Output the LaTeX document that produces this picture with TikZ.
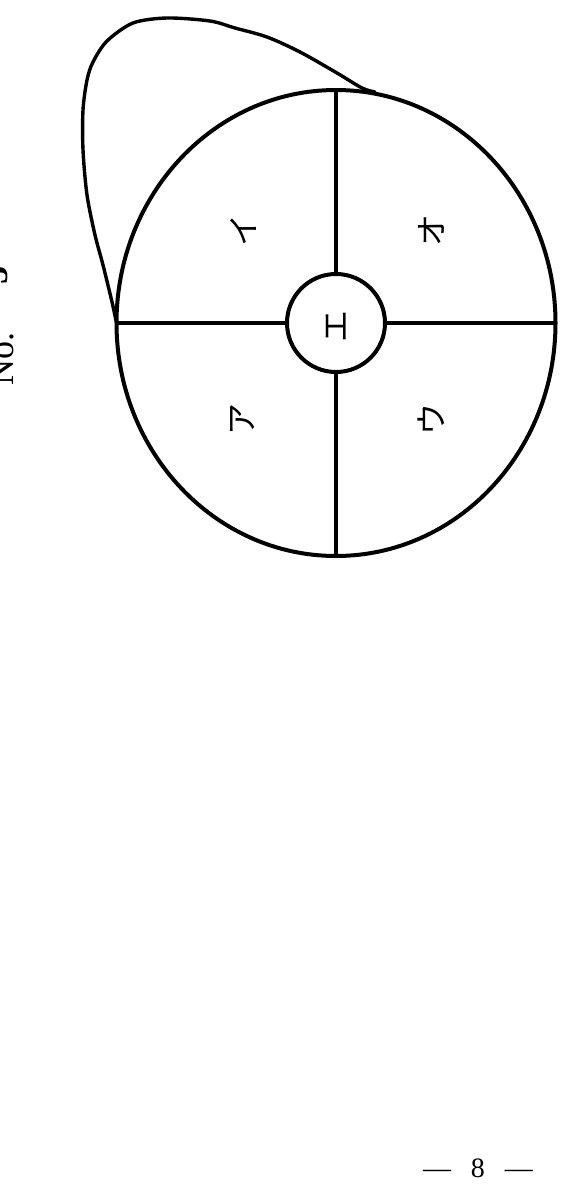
\documentclass[tikz,border=0pt]{standalone}
\usepackage{fontspec}
\setmainfont{Liberation Serif}
\newfontfamily\cjk{Noto Sans CJK JP}
\begin{document}
\begin{tikzpicture}[x=1pt,y=-1pt,
  heavy/.style={line width=4pt},
  blobline/.style={line width=3.4pt, line join=round, line cap=round},
  kana/.style={font=\cjk\fontsize{32}{32}\selectfont, rotate=90, inner sep=0pt},
  hub/.style={draw, heavy, circle, minimum size=98pt, inner sep=0pt, fill=white}]
\useasboundingbox (0,0) rectangle (580,1189);
\coordinate (C) at (336,323);
\coordinate (T) at (336,90);
\coordinate (B) at (336,556);
\coordinate (L) at (116.5,323);
\coordinate (R) at (555.5,323);
\coordinate (J) at (375,92);
% outer ellipse
\draw[heavy] (C) ellipse [x radius=219.5pt, y radius=233pt];
% spokes
\node[hub] (E) at (C) {};
\draw[heavy] (E.north) -- (T);
\draw[heavy] (E.south) -- (B);
\draw[heavy] (E.west) -- (L);
\draw[heavy] (E.east) -- (R);
% labels
\node[kana] (e) at (337,326) {エ};
\node[kana] (a) at (242,419) {ア};
\node[kana] (i) at (243,230) {イ};
\node[kana] (u) at (431,419) {ウ};
\node[kana] (o) at (431,230) {オ};
% hand-drawn loop
\draw[blobline] plot[smooth, tension=0.5] coordinates {
 (L) (112,302) (103,265) (95,235) (87,195) (83,150) (83,110) (87,80) (93,62) (107,41)
 (133,23) (167,18) (210,21) (235,28) (267,37) (300,52) (337,73) (362,88) (J)};
% cut-off heading
\node[font=\fontsize{36}{36}\selectfont, rotate=90, anchor=base west, inner sep=0pt] (no) at (13,386) {No.};
\node[font=\bfseries\fontsize{36}{36}\selectfont, rotate=90, anchor=base west, inner sep=0pt] (num) at (8,285) {5};
% page number
\node[font=\fontsize{28}{28}\selectfont, anchor=base, inner sep=0pt] (pg) at (478,1177) {—\hspace{20pt}8\hspace{20pt}—};
\end{tikzpicture}
\end{document}
